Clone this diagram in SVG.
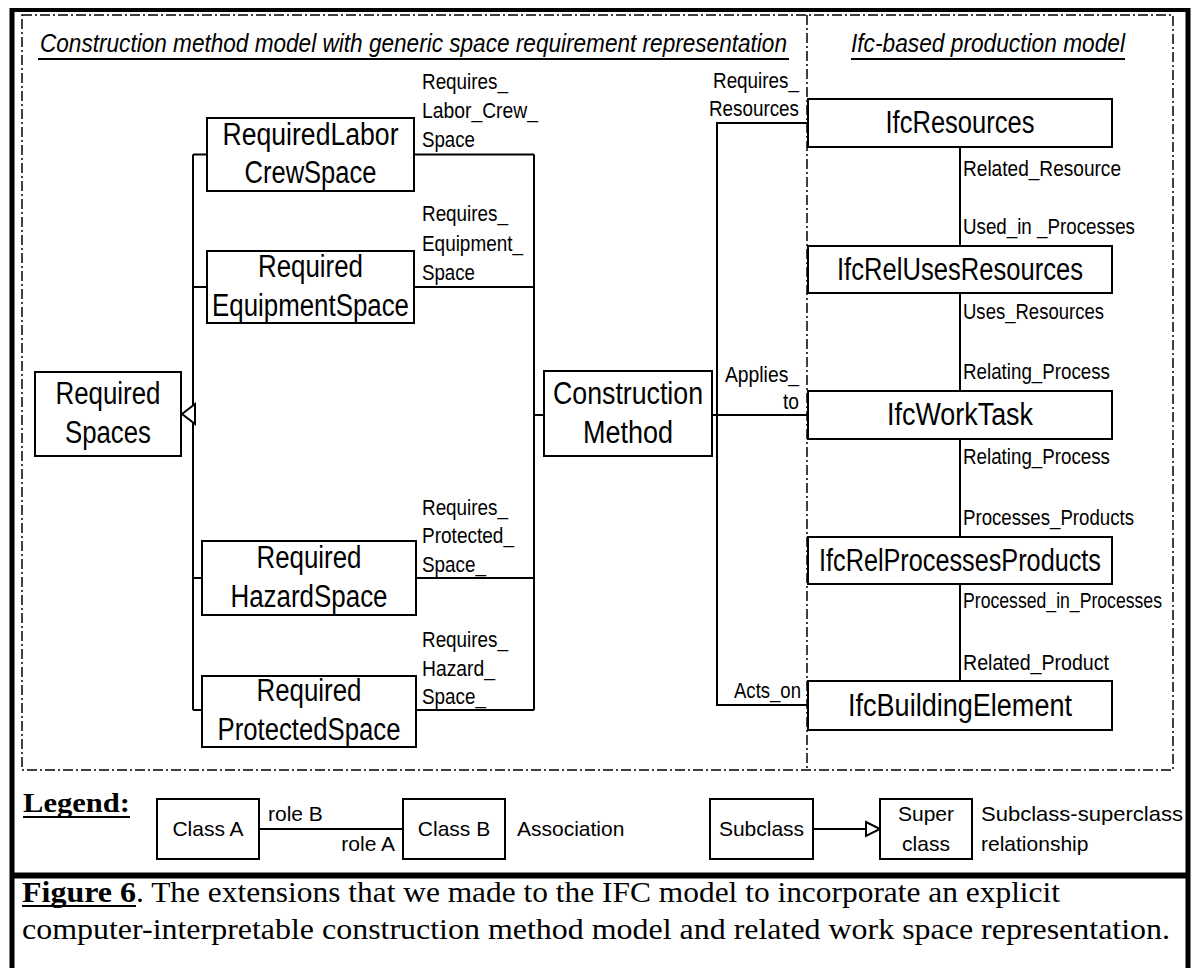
<svg xmlns="http://www.w3.org/2000/svg" width="1194" height="968" viewBox="0 0 1194 968">
<style>
.t{font-family:"Liberation Sans Narrow","Liberation Sans",Arial,sans-serif;fill:#000}
.n{font-size:31px;text-anchor:middle}
.l{font-size:22px}
.e{text-anchor:end}
.g{font-size:21px}
.s{font-family:"Liberation Serif","Times New Roman",serif;fill:#000}
.box{fill:#fff;stroke:#000;stroke-width:2}
.c{fill:none;stroke:#000;stroke-width:2}
.dd{fill:none;stroke:#000;stroke-width:1.5;stroke-dasharray:10 3 2 3}
</style>
<rect width="1194" height="968" fill="#fff"/>
<!-- frame -->
<g id="frame">
<line x1="12" y1="8" x2="12" y2="968" stroke="#000" stroke-width="5"/>
<line x1="1188" y1="8" x2="1188" y2="968" stroke="#000" stroke-width="5"/>
<line x1="10" y1="10" x2="1190" y2="10" stroke="#000" stroke-width="4"/>
<line x1="10" y1="875.5" x2="1190" y2="875.5" stroke="#000" stroke-width="6"/>
<rect class="dd" x="22" y="15" width="1151" height="755"/>
<line class="dd" x1="807" y1="15" x2="807" y2="770"/>
</g>
<!-- titles -->
<g id="titles">
<text class="t" x="40" y="52" font-size="25" font-style="italic" textLength="747" lengthAdjust="spacingAndGlyphs">Construction method model with generic space requirement representation</text>
<line x1="38" y1="59" x2="789" y2="59" stroke="#000" stroke-width="2"/>
<text class="t" x="851" y="52" font-size="25" font-style="italic" textLength="274" lengthAdjust="spacingAndGlyphs">Ifc-based production model</text>
<line x1="851" y1="59" x2="1125" y2="59" stroke="#000" stroke-width="2"/>
</g>
<!-- connectors -->
<g id="connectors">
<line class="c" x1="193" y1="154.5" x2="193" y2="710"/>
<line class="c" x1="193" y1="154.5" x2="207" y2="154.5"/>
<line class="c" x1="193" y1="287" x2="207" y2="287"/>
<line class="c" x1="193" y1="578" x2="202" y2="578"/>
<line class="c" x1="193" y1="710" x2="202" y2="710"/>
<polygon points="182,414 195,404 195,424" fill="#fff" stroke="#000" stroke-width="2"/>
<line class="c" x1="534" y1="154.5" x2="534" y2="710"/>
<line class="c" x1="414" y1="154.5" x2="534" y2="154.5"/>
<line class="c" x1="414" y1="287" x2="534" y2="287"/>
<line class="c" x1="416" y1="578" x2="534" y2="578"/>
<line class="c" x1="416" y1="710" x2="534" y2="710"/>
<line class="c" x1="534" y1="415" x2="544" y2="415"/>
<polyline class="c" points="808,123 717,123 717,705 808,705"/>
<line class="c" x1="712" y1="415" x2="808" y2="415"/>
<line class="c" x1="960" y1="147" x2="960" y2="681"/>
<!-- labels -->
<text class="t l" x="422" y="89" textLength="86" lengthAdjust="spacingAndGlyphs">Requires_</text>
<text class="t l" x="422" y="118" textLength="116" lengthAdjust="spacingAndGlyphs">Labor_Crew_</text>
<text class="t l" x="422" y="147" textLength="53" lengthAdjust="spacingAndGlyphs">Space</text>
<text class="t l" x="422" y="221" textLength="86" lengthAdjust="spacingAndGlyphs">Requires_</text>
<text class="t l" x="422" y="251" textLength="101" lengthAdjust="spacingAndGlyphs">Equipment_</text>
<text class="t l" x="422" y="280" textLength="53" lengthAdjust="spacingAndGlyphs">Space</text>
<text class="t l" x="422" y="515" textLength="86" lengthAdjust="spacingAndGlyphs">Requires_</text>
<text class="t l" x="422" y="543" textLength="92" lengthAdjust="spacingAndGlyphs">Protected_</text>
<text class="t l" x="422" y="572" textLength="64" lengthAdjust="spacingAndGlyphs">Space_</text>
<text class="t l" x="422" y="647" textLength="86" lengthAdjust="spacingAndGlyphs">Requires_</text>
<text class="t l" x="422" y="676" textLength="73" lengthAdjust="spacingAndGlyphs">Hazard_</text>
<text class="t l" x="422" y="704" textLength="64" lengthAdjust="spacingAndGlyphs">Space_</text>
<text class="t l e" x="799" y="88" textLength="86" lengthAdjust="spacingAndGlyphs">Requires_</text>
<text class="t l e" x="799" y="116" textLength="90" lengthAdjust="spacingAndGlyphs">Resources</text>
<text class="t l e" x="799" y="382" textLength="74" lengthAdjust="spacingAndGlyphs">Applies_</text>
<text class="t l e" x="799" y="409" textLength="16" lengthAdjust="spacingAndGlyphs">to</text>
<text class="t l e" x="801" y="698" textLength="67" lengthAdjust="spacingAndGlyphs">Acts_on</text>
<text class="t l" x="963" y="176" textLength="158" lengthAdjust="spacingAndGlyphs">Related_Resource</text>
<text class="t l" x="963" y="234" textLength="172" lengthAdjust="spacingAndGlyphs">Used_in _Processes</text>
<text class="t l" x="963" y="319" textLength="141" lengthAdjust="spacingAndGlyphs">Uses_Resources</text>
<text class="t l" x="963" y="379" textLength="147" lengthAdjust="spacingAndGlyphs">Relating_Process</text>
<text class="t l" x="963" y="464" textLength="147" lengthAdjust="spacingAndGlyphs">Relating_Process</text>
<text class="t l" x="963" y="525" textLength="171" lengthAdjust="spacingAndGlyphs">Processes_Products</text>
<text class="t l" x="963" y="608" textLength="199" lengthAdjust="spacingAndGlyphs">Processed_in_Processes</text>
<text class="t l" x="963" y="670" textLength="146" lengthAdjust="spacingAndGlyphs">Related_Product</text>
</g>
<!-- nodes -->
<g id="RequiredLaborCrewSpace">
<rect class="box" x="207" y="118" width="207" height="73"/>
<text class="t n" x="310.5" y="145" textLength="176" lengthAdjust="spacingAndGlyphs">RequiredLabor</text>
<text class="t n" x="310.5" y="183" textLength="132" lengthAdjust="spacingAndGlyphs">CrewSpace</text>
</g>
<g id="RequiredEquipmentSpace">
<rect class="box" x="207" y="251" width="207" height="72"/>
<text class="t n" x="310.5" y="277" textLength="105" lengthAdjust="spacingAndGlyphs">Required</text>
<text class="t n" x="310.5" y="316" textLength="197" lengthAdjust="spacingAndGlyphs">EquipmentSpace</text>
</g>
<g id="RequiredSpaces">
<rect class="box" x="35" y="372" width="146" height="84"/>
<text class="t n" x="108" y="404" textLength="105" lengthAdjust="spacingAndGlyphs">Required</text>
<text class="t n" x="108" y="443" textLength="86" lengthAdjust="spacingAndGlyphs">Spaces</text>
</g>
<g id="RequiredHazardSpace">
<rect class="box" x="202" y="541" width="214" height="74"/>
<text class="t n" x="309" y="568" textLength="105" lengthAdjust="spacingAndGlyphs">Required</text>
<text class="t n" x="309" y="607" textLength="157" lengthAdjust="spacingAndGlyphs">HazardSpace</text>
</g>
<g id="RequiredProtectedSpace">
<rect class="box" x="202" y="676" width="214" height="71"/>
<text class="t n" x="309" y="701" textLength="105" lengthAdjust="spacingAndGlyphs">Required</text>
<text class="t n" x="309" y="740" textLength="183" lengthAdjust="spacingAndGlyphs">ProtectedSpace</text>
</g>
<g id="ConstructionMethod">
<rect class="box" x="544" y="371" width="168" height="85"/>
<text class="t n" x="628" y="404" textLength="150" lengthAdjust="spacingAndGlyphs">Construction</text>
<text class="t n" x="628" y="443" textLength="90" lengthAdjust="spacingAndGlyphs">Method</text>
</g>
<g id="IfcResources">
<rect class="box" x="808" y="99" width="304" height="48"/>
<text class="t n" x="960" y="133" textLength="149" lengthAdjust="spacingAndGlyphs">IfcResources</text>
</g>
<g id="IfcRelUsesResources">
<rect class="box" x="808" y="246" width="304" height="47"/>
<text class="t n" x="960" y="280" textLength="246" lengthAdjust="spacingAndGlyphs">IfcRelUsesResources</text>
</g>
<g id="IfcWorkTask">
<rect class="box" x="808" y="391" width="304" height="48"/>
<text class="t n" x="960" y="425" textLength="146" lengthAdjust="spacingAndGlyphs">IfcWorkTask</text>
</g>
<g id="IfcRelProcessesProducts">
<rect class="box" x="808" y="537" width="304" height="47"/>
<text class="t n" x="960" y="571" textLength="282" lengthAdjust="spacingAndGlyphs">IfcRelProcessesProducts</text>
</g>
<g id="IfcBuildingElement">
<rect class="box" x="808" y="681" width="304" height="49"/>
<text class="t n" x="960" y="716" textLength="224" lengthAdjust="spacingAndGlyphs">IfcBuildingElement</text>
</g>
<!-- legend -->
<g id="legend">
<text class="s" x="23" y="812" font-size="27" font-weight="bold" textLength="107" lengthAdjust="spacingAndGlyphs">Legend:</text>
<line x1="23" y1="817" x2="130" y2="817" stroke="#000" stroke-width="2"/>
<rect class="box" x="157" y="799" width="102" height="60"/>
<text class="t g" x="208" y="836" text-anchor="middle">Class A</text>
<line class="c" x1="259" y1="829" x2="403" y2="829"/>
<text class="t g" x="268" y="821">role B</text>
<text class="t g" x="395" y="851" text-anchor="end">role A</text>
<rect class="box" x="403" y="799" width="102" height="60"/>
<text class="t g" x="454" y="836" text-anchor="middle">Class B</text>
<text class="t g" x="517" y="836">Association</text>
<rect class="box" x="710" y="799" width="103" height="60"/>
<text class="t g" x="761.5" y="836" text-anchor="middle">Subclass</text>
<line class="c" x1="813" y1="829" x2="867" y2="829"/>
<polygon points="866,822 880,829 866,836" fill="#fff" stroke="#000" stroke-width="2"/>
<rect class="box" x="880" y="799" width="92" height="60"/>
<text class="t g" x="926" y="821" text-anchor="middle">Super</text>
<text class="t g" x="926" y="851" text-anchor="middle">class</text>
<text class="t g" x="981" y="821" textLength="202" lengthAdjust="spacingAndGlyphs">Subclass-superclass</text>
<text class="t g" x="981" y="851">relationship</text>
</g>
<!-- caption -->
<g id="caption">
<text class="s" x="22" y="902" font-size="29" font-weight="bold" textLength="114" lengthAdjust="spacingAndGlyphs">Figure 6</text>
<line x1="22" y1="906" x2="136" y2="906" stroke="#000" stroke-width="2"/>
<text class="s" x="136" y="902" font-size="29" textLength="924" lengthAdjust="spacingAndGlyphs">.  The extensions that we made to the IFC model to incorporate an explicit</text>
<text class="s" x="22" y="939" font-size="29" textLength="1148" lengthAdjust="spacingAndGlyphs">computer-interpretable construction method model and related work space representation.</text>
</g>
</svg>
